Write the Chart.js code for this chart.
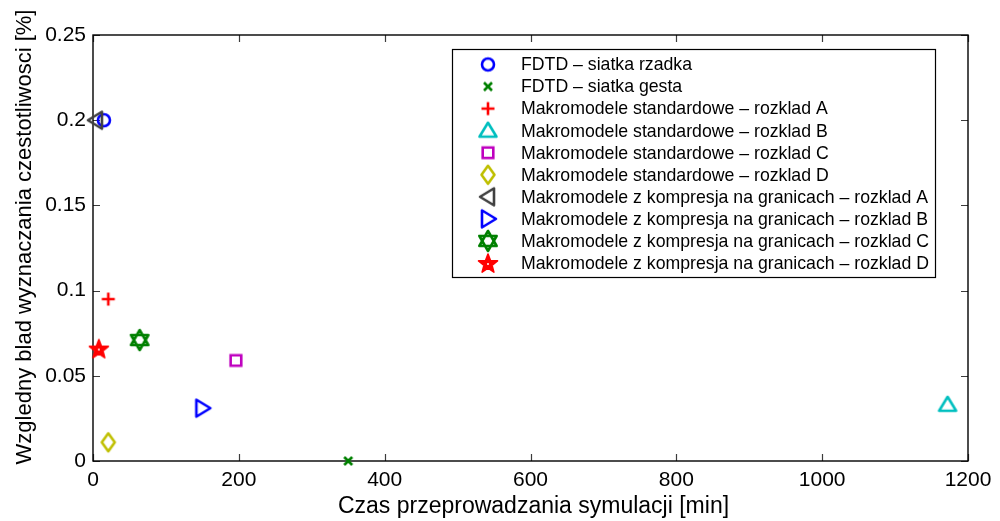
<!DOCTYPE html>
<html>
<head>
<meta charset="utf-8">
<script src="https://cdn.jsdelivr.net/npm/chart.js@4"></script>
<style>
  html, body { margin: 0; padding: 0; background: #fff; }
  #wrap { width: 1000px; height: 521px; }
</style>
</head>
<body>
<div id="wrap"><canvas id="c" width="1000" height="521"></canvas></div>
<script>
// Series labels, simulation times [min] and relative errors [%]
const seriesLabels = [
  'FDTD \u2013 siatka rzadka',
  'FDTD \u2013 siatka gesta',
  'Makromodele standardowe \u2013 rozklad A',
  'Makromodele standardowe \u2013 rozklad B',
  'Makromodele standardowe \u2013 rozklad C',
  'Makromodele standardowe \u2013 rozklad D',
  'Makromodele z kompresja na granicach \u2013 rozklad A',
  'Makromodele z kompresja na granicach \u2013 rozklad B',
  'Makromodele z kompresja na granicach \u2013 rozklad C',
  'Makromodele z kompresja na granicach \u2013 rozklad D'
];
const simTime = [15, 350, 21, 1172, 196, 21, 4, 150, 64, 8];
const relError = [0.2, 0, 0.095, 0.033, 0.059, 0.011, 0.2, 0.031, 0.071, 0.066];
const markerKinds = ['circle', 'x', 'plus', 'triUp', 'square', 'diamond', 'triLeft', 'triRight', 'hexagram', 'pentagram'];
const markerColors = ['#0000ff', '#008000', '#ff0000', '#00bfbf', '#bf00bf', '#bfbf00', '#404040', '#0000ff', '#008000', '#ff0000'];
const xTicks = [0, 200, 400, 600, 800, 1000, 1200];
const yTicks = [0, 0.05, 0.1, 0.15, 0.2, 0.25];
const xTitle = 'Czas przeprowadzania symulacji [min]';
const yTitle = 'Wzgledny blad wyznaczania czestotliwosci [%]';

// Draw a MATLAB-like marker glyph on a small canvas
function makeMarker(kind, color) {
  const s = 28;
  const cv = document.createElement('canvas');
  cv.width = s; cv.height = s;
  const g = cv.getContext('2d');
  const c = s / 2;
  g.strokeStyle = color;
  g.fillStyle = color;
  g.lineWidth = 2.6;
  g.lineJoin = 'round';
  g.beginPath();
  switch (kind) {
    case 'circle':
      g.arc(c, c, 6, 0, Math.PI * 2);
      g.stroke();
      break;
    case 'x':
      g.moveTo(c - 4, c - 4); g.lineTo(c + 4, c + 4);
      g.moveTo(c + 4, c - 4); g.lineTo(c - 4, c + 4);
      g.stroke();
      break;
    case 'plus':
      g.moveTo(c - 6.5, c); g.lineTo(c + 6.5, c);
      g.moveTo(c, c - 6.5); g.lineTo(c, c + 6.5);
      g.stroke();
      break;
    case 'triUp':
      g.moveTo(c, c - 8); g.lineTo(c + 8.5, c + 6); g.lineTo(c - 8.5, c + 6); g.closePath();
      g.stroke();
      break;
    case 'triLeft':
      g.moveTo(c - 8, c); g.lineTo(c + 6, c - 8.5); g.lineTo(c + 6, c + 8.5); g.closePath();
      g.stroke();
      break;
    case 'triRight':
      g.moveTo(c + 8, c); g.lineTo(c - 6, c - 8.5); g.lineTo(c - 6, c + 8.5); g.closePath();
      g.stroke();
      break;
    case 'square':
      g.rect(c - 5.3, c - 5.3, 10.6, 10.6);
      g.lineJoin = 'miter';
      g.stroke();
      break;
    case 'diamond':
      g.moveTo(c, c - 9); g.lineTo(c + 6.5, c); g.lineTo(c, c + 9); g.lineTo(c - 6.5, c); g.closePath();
      g.stroke();
      break;
    case 'hexagram': {
      const r = 10;
      for (let t = 0; t < 2; t++) {
        const a0 = t === 0 ? -Math.PI / 2 : Math.PI / 2;
        g.moveTo(c + r * Math.cos(a0), c + r * Math.sin(a0));
        for (let k = 1; k <= 3; k++) {
          const a = a0 + k * 2 * Math.PI / 3;
          g.lineTo(c + r * Math.cos(a), c + r * Math.sin(a));
        }
        g.closePath();
      }
      g.stroke();
      break;
    }
    case 'pentagram': {
      const ro = 10, ri = 4.2;
      for (let k = 0; k < 10; k++) {
        const a = -Math.PI / 2 + k * Math.PI / 5;
        const r = k % 2 === 0 ? ro : ri;
        const px = c + r * Math.cos(a), py = c + 1 + r * Math.sin(a);
        if (k === 0) g.moveTo(px, py); else g.lineTo(px, py);
      }
      g.closePath();
      g.lineWidth = 1.6;
      g.fill();
      g.stroke();
      g.fillStyle = '#fff';
      g.beginPath();
      g.arc(c, c + 1, 1, 0, Math.PI * 2);
      g.fill();
      break;
    }
  }
  return cv;
}

const markers = markerKinds.map((k, i) => makeMarker(k, markerColors[i]));

// Later series are drawn on top of earlier ones
const datasets = seriesLabels.map((label, i) => ({
  label: label,
  data: [{ x: simTime[i], y: relError[i] }],
  pointStyle: markers[i],
  pointRadius: 10,
  borderColor: markerColors[i],
  backgroundColor: markerColors[i],
  showLine: false,
  clip: false,
  order: seriesLabels.length - i
}));

const FONT = 'Liberation Sans, Arial, sans-serif';

// Inward tick marks on all four sides of the plot box, plus the box itself
const boxTicks = {
  id: 'boxTicks',
  beforeDatasetsDraw(chart) {
    const { ctx, chartArea: a, scales } = chart;
    const len = 7;
    ctx.save();
    ctx.strokeStyle = '#3c3c3c';
    ctx.lineWidth = 1.2;
    ctx.beginPath();
    xTicks.forEach(v => {
      const px = Math.round(scales.x.getPixelForValue(v)) + 0.5;
      ctx.moveTo(px, a.bottom); ctx.lineTo(px, a.bottom - len);
      ctx.moveTo(px, a.top); ctx.lineTo(px, a.top + len);
    });
    yTicks.forEach(v => {
      const py = Math.round(scales.y.getPixelForValue(v)) + 0.5;
      ctx.moveTo(a.left, py); ctx.lineTo(a.left + len, py);
      ctx.moveTo(a.right, py); ctx.lineTo(a.right - len, py);
    });
    ctx.stroke();
    ctx.strokeStyle = '#000';
    ctx.lineWidth = 1.4;
    ctx.strokeRect(a.left, a.top, a.right - a.left, a.bottom - a.top);
    ctx.restore();
  }
};

// Axis titles
const axisTitles = {
  id: 'axisTitles',
  afterDraw(chart) {
    const { ctx, chartArea: a } = chart;
    ctx.save();
    ctx.fillStyle = '#000';
    ctx.textAlign = 'center';
    ctx.textBaseline = 'alphabetic';
    ctx.font = '23px ' + FONT;
    ctx.fillText(xTitle, (a.left + a.right) / 2 + 3, a.bottom + 52);
    ctx.translate(a.left - 62, (a.top + a.bottom) / 2 - 11);
    ctx.rotate(-Math.PI / 2);
    ctx.font = '22px ' + FONT;
    ctx.fillText(yTitle, 0, 0);
    ctx.restore();
  }
};

// Boxed legend inside the upper right of the plot
const boxLegend = {
  id: 'boxLegend',
  afterDraw(chart) {
    const { ctx, chartArea: a } = chart;
    const right = a.right - 33, top = a.top + 14;
    const w = 483, h = 228;
    const left = right - w;
    const rowH = 22.05;
    ctx.save();
    ctx.fillStyle = '#fff';
    ctx.fillRect(left, top, w, h);
    ctx.strokeStyle = '#000';
    ctx.lineWidth = 1.2;
    ctx.strokeRect(left + 0.5, top + 0.5, w, h);
    ctx.font = '17.7px ' + FONT;
    ctx.textBaseline = 'middle';
    ctx.fillStyle = '#000';
    chart.data.datasets.forEach((ds, i) => {
      const y = top + 15.5 + i * rowH;
      const m = ds.pointStyle;
      ctx.drawImage(m, left + 36 - m.width / 2, y - m.height / 2);
      ctx.fillText(ds.label, left + 69, y + 1);
    });
    ctx.restore();
  }
};

new Chart(document.getElementById('c'), {
  type: 'scatter',
  data: { datasets },
  options: {
    responsive: false,
    animation: false,
    layout: { padding: { top: 35, right: 32, left: 0, bottom: 0 } },
    plugins: { legend: { display: false }, tooltip: { enabled: false } },
    scales: {
      x: {
        type: 'linear',
        min: 0, max: 1200,
        afterBuildTicks(scale) { scale.ticks = xTicks.map(v => ({ value: v })); },
        afterFit(scale) { scale.height = 60; },
        grid: { display: false, drawTicks: false },
        border: { display: false },
        ticks: {
          color: '#000', padding: 7,
          font: { family: FONT, size: 21 },
          callback: v => String(v)
        }
      },
      y: {
        type: 'linear',
        min: 0, max: 0.25,
        afterBuildTicks(scale) { scale.ticks = yTicks.map(v => ({ value: v })); },
        afterFit(scale) { scale.width = 93; },
        grid: { display: false, drawTicks: false },
        border: { display: false },
        ticks: {
          color: '#000', padding: 7,
          font: { family: FONT, size: 21 },
          callback: v => String(+v.toFixed(2))
        }
      }
    }
  },
  plugins: [boxTicks, axisTitles, boxLegend]
});
</script>
</body>
</html>
